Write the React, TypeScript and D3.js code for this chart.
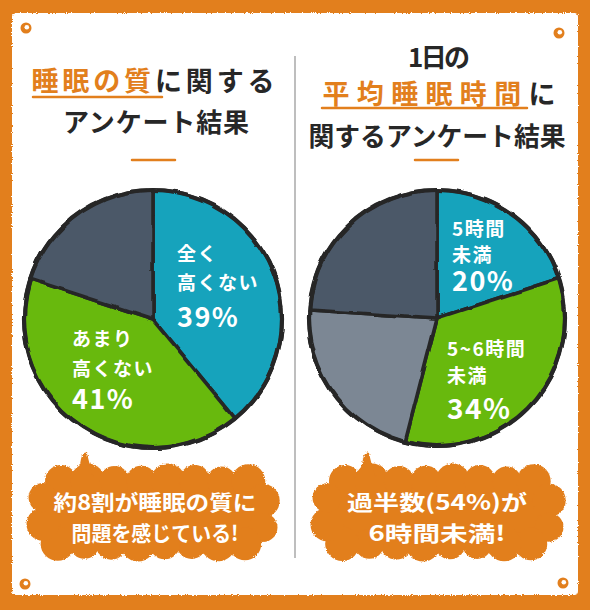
import React from "react";
import * as d3 from "d3";

// ---------- data ----------
const leftCategories = ["全く高くない", "あまり高くない", "その他"];
const leftValues = [39, 41, 20];
const leftLabelLines = [["全く", "高くない", "39%"], ["あまり", "高くない", "41%"], []];

const rightCategories = ["5時間未満", "5~6時間未満", "6~7時間未満", "7時間以上"];
const rightValues = [20, 34, 22, 24];
const rightLabelLines = [["5時間", "未満", "20%"], ["5~6時間", "未満", "34%"], [], []];

const leftTitle1Orange = "睡眠の質";
const leftTitle1Black = "に関する";
const leftTitle2 = "アンケート結果";
const rightTitle1 = "1日の";
const rightTitle2Orange = "平均睡眠時間";
const rightTitle2Black = "に";
const rightTitle3 = "関するアンケート結果";

const leftCallout = ["約8割が睡眠の質に", "問題を感じている!"];
const rightCallout = ["過半数(54%)が", "6時間未満!"];

// ---------- style ----------
const ORANGE = "#e27f1d";
const INK = "#272727";
const FONT = "'Noto Sans CJK JP', 'Noto Sans', sans-serif";
const sliceColorsLeft = ["#13a3bc", "#67b90f", "#4b5868"];
const sliceColorsRight = ["#13a3bc", "#67b90f", "#7b8794", "#4b5868"];

type LabelLayout = { dx: number; lines: { dy: number; size: number }[] };

function Pie({
  cx, cy, r, values, colors, labels, layouts,
}: {
  cx: number; cy: number; r: number; values: number[]; colors: string[];
  labels: string[][]; layouts: (LabelLayout | null)[];
}) {
  const arcs = d3.pie<number>().sort(null).value((d) => d)(values);
  const arcGen = d3.arc<d3.PieArcDatum<number>>().innerRadius(0).outerRadius(r);
  return (
    <g transform={`translate(${cx},${cy})`}>
      <g filter="url(#wobble)">
        {arcs.map((a, i) => (
          <path key={i} d={arcGen(a) || ""} fill={colors[i]} stroke={INK} strokeWidth={3.6} strokeLinejoin="round" />
        ))}
        <circle r={r} fill="none" stroke={INK} strokeWidth={4.2} />
      </g>
      {arcs.map((a, i) => {
        const lay = layouts[i];
        if (!lay) return null;
        return (
          <g key={"l" + i}>
            {labels[i].map((t, j) => (
              <text key={j} x={lay.dx} y={lay.lines[j].dy} fontSize={lay.lines[j].size} fontWeight={700}
                fill="#fff" dominantBaseline="central" fontFamily={FONT} letterSpacing={1.5}>{t}</text>
            ))}
          </g>
        );
      })}
    </g>
  );
}

function roundedRectPoints(x0: number, y0: number, x1: number, y1: number, rc: number, step: number) {
  const w = x1 - x0 - 2 * rc, h = y1 - y0 - 2 * rc;
  const q = (Math.PI * rc) / 2;
  const segs: ((t: number) => [number, number])[] = [];
  const lens: number[] = [];
  const addLine = (ax: number, ay: number, bx: number, by: number, L: number) => {
    segs.push((t) => [ax + (bx - ax) * (t / L), ay + (by - ay) * (t / L)]); lens.push(L);
  };
  const addArc = (ccx: number, ccy: number, a0: number) => {
    segs.push((t) => { const a = a0 + (t / q) * (Math.PI / 2); return [ccx + rc * Math.cos(a), ccy + rc * Math.sin(a)]; }); lens.push(q);
  };
  addLine(x0 + rc, y0, x1 - rc, y0, w);
  addArc(x1 - rc, y0 + rc, -Math.PI / 2);
  addLine(x1, y0 + rc, x1, y1 - rc, h);
  addArc(x1 - rc, y1 - rc, 0);
  addLine(x1 - rc, y1, x0 + rc, y1, w);
  addArc(x0 + rc, y1 - rc, Math.PI / 2);
  addLine(x0, y1 - rc, x0, y0 + rc, h);
  addArc(x0 + rc, y0 + rc, Math.PI);
  const P = lens.reduce((s, l) => s + l, 0);
  const n = Math.round(P / step);
  const pts: [number, number][] = [];
  for (let k = 0; k < n; k++) {
    let s = (k * P) / n;
    let idx = 0;
    while (idx < lens.length - 1 && s > lens[idx]) { s -= lens[idx]; idx++; }
    pts.push(segs[idx](Math.min(s, lens[idx])));
  }
  return pts;
}

function Cloud({ x0, y0, x1, y1, tailX, lines, widths, cx }: {
  x0: number; y0: number; x1: number; y1: number; tailX: number; lines: string[]; widths: number[]; cx: number;
}) {
  const br = 16;
  const pts = roundedRectPoints(x0 + br, y0 + br, x1 - br, y1 - br, 18, 27);
  const tail = d3.path();
  tail.moveTo(tailX - 13, y0 + 14);
  tail.quadraticCurveTo(tailX - 4, y0 + 5, tailX - 3, y0 - 6);
  tail.quadraticCurveTo(tailX - 1, y0 - 14, tailX + 3, y0 - 12);
  tail.quadraticCurveTo(tailX + 5, y0 - 2, tailX + 10, y0 + 14);
  tail.closePath();
  const midY = (y0 + y1) / 2;
  return (
    <g>
      <g filter="url(#rough)" fill={ORANGE}>
        <rect x={x0 + br} y={y0 + br} width={x1 - x0 - 2 * br} height={y1 - y0 - 2 * br} rx={18} />
        {pts.map((p, i) => (
          <circle key={i} cx={p[0]} cy={p[1]} r={br + 1.5 * Math.sin(i * 1.9)} />
        ))}
        <path d={tail.toString()} />
      </g>
      {lines.map((t, i) => (
        <text key={i} x={cx} y={midY - 12 + i * 31} textAnchor="middle" dominantBaseline="central"
          fontSize={21} fontWeight={700} fill="#fff" fontFamily={FONT}
          textLength={widths[i]} lengthAdjust="spacingAndGlyphs">{t}</text>
      ))}
    </g>
  );
}

function Pin({ x, y }: { x: number; y: number }) {
  return (
    <g>
      <circle cx={x} cy={y} r={5.5} fill={ORANGE} />
      <circle cx={x + 0.8} cy={y - 0.8} r={2.3} fill="#fff" />
    </g>
  );
}

export default function App() {
  const leftLayouts: (LabelLayout | null)[] = [
    { dx: 24, lines: [{ dy: -67, size: 19 }, { dy: -38, size: 19 }, { dy: -4, size: 27 }] },
    { dx: -81, lines: [{ dy: 18, size: 19 }, { dy: 48, size: 19 }, { dy: 78, size: 27 }] },
    null,
  ];
  const rightLayouts: (LabelLayout | null)[] = [
    { dx: 15, lines: [{ dy: -91, size: 19 }, { dy: -65, size: 19 }, { dy: -39, size: 27 }] },
    { dx: 10, lines: [{ dy: 29, size: 19 }, { dy: 56, size: 19 }, { dy: 89, size: 28 }] },
    null,
    null,
  ];
  return (
    <svg width={590} height={610} style={{ position: "absolute", left: 0, top: 0 }}>
      <defs>
        <filter id="rough" x="-5%" y="-5%" width="110%" height="110%">
          <feTurbulence type="fractalNoise" baseFrequency="0.9" numOctaves="2" seed="3" result="n" />
          <feDisplacementMap in="SourceGraphic" in2="n" scale="3" xChannelSelector="R" yChannelSelector="G" />
        </filter>
        <filter id="wobble" x="-5%" y="-5%" width="110%" height="110%">
          <feTurbulence type="fractalNoise" baseFrequency="0.03 0.03" numOctaves="2" seed="7" result="w" />
          <feDisplacementMap in="SourceGraphic" in2="w" scale="5" xChannelSelector="R" yChannelSelector="G" result="d" />
          <feTurbulence type="fractalNoise" baseFrequency="1.2" numOctaves="1" seed="2" result="f" />
          <feDisplacementMap in="d" in2="f" scale="1.6" xChannelSelector="R" yChannelSelector="G" />
        </filter>
      </defs>
      {/* frame */}
      <rect x={0} y={0} width={590} height={610} fill={ORANGE} />
      <rect x={12} y={13} width={566} height={582} rx={4} fill="#fff" filter="url(#rough)" />
      <Pin x={26} y={28} />
      <Pin x={559} y={33} />
      <Pin x={25} y={584} />
      <Pin x={563} y={583} />

      {/* divider */}
      <line x1={295} x2={295} y1={56} y2={558} stroke="#a9a9a9" strokeWidth={1.5} />

      {/* left title */}
      <text x={153} y={79} textAnchor="middle" dominantBaseline="central" fontSize={27} fontWeight={700}
        fontFamily={FONT} fill={INK} textLength={243} lengthAdjust="spacing">
        <tspan fill={ORANGE}>{leftTitle1Orange}</tspan>
        <tspan>{leftTitle1Black}</tspan>
      </text>
      <line x1={33} x2={162} y1={97} y2={97} stroke={ORANGE} strokeWidth={2.5} strokeLinecap="round" />
      <text x={156} y={120} textAnchor="middle" dominantBaseline="central" fontSize={26} fontWeight={700}
        fontFamily={FONT} fill={INK} textLength={186} lengthAdjust="spacing">{leftTitle2}</text>
      <line x1={132} x2={175} y1={160} y2={160} stroke={ORANGE} strokeWidth={2.5} strokeLinecap="round" />

      {/* right title */}
      <text x={439} y={55} textAnchor="middle" dominantBaseline="central" fontSize={26} fontWeight={700}
        fontFamily={FONT} fill={INK} textLength={62} lengthAdjust="spacing">{rightTitle1}</text>
      <text x={439} y={92} textAnchor="middle" dominantBaseline="central" fontSize={27} fontWeight={700}
        fontFamily={FONT} fill={INK} textLength={233} lengthAdjust="spacing">
        <tspan fill={ORANGE}>{rightTitle2Orange}</tspan>
        <tspan>{rightTitle2Black}</tspan>
      </text>
      <line x1={322} x2={527} y1={108} y2={108} stroke={ORANGE} strokeWidth={2.5} strokeLinecap="round" />
      <text x={437} y={134} textAnchor="middle" dominantBaseline="central" fontSize={26} fontWeight={700}
        fontFamily={FONT} fill={INK} textLength={257} lengthAdjust="spacingAndGlyphs">{rightTitle3}</text>
      <line x1={415} x2={458} y1={160} y2={160} stroke={ORANGE} strokeWidth={2.5} strokeLinecap="round" />

      {/* pies */}
      <Pie cx={153} cy={319} r={129} values={leftValues} colors={sliceColorsLeft}
        labels={leftLabelLines} layouts={leftLayouts} />
      <Pie cx={437} cy={318} r={128} values={rightValues} colors={sliceColorsRight}
        labels={rightLabelLines} layouts={rightLayouts} />

      {/* callouts */}
      <Cloud x0={27} y0={465} x1={279} y1={560} tailX={84} lines={leftCallout} widths={[203, 167]} cx={155} />
      <Cloud x0={311} y0={465} x1={565} y1={560} tailX={366} lines={rightCallout} widths={[180, 137]} cx={437} />
    </svg>
  );
}
